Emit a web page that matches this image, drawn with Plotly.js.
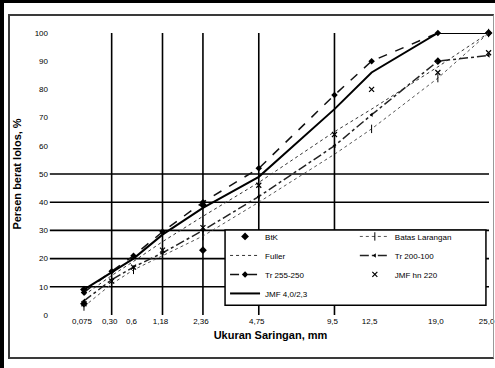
<!DOCTYPE html>
<html><head><meta charset="utf-8">
<script src="https://cdn.plot.ly/plotly-3.0.1.min.js"></script>
<style>
body{margin:0;background:#fff;}
#wrap{position:relative;width:495px;height:368px;overflow:hidden;background:#fff;}
#chart{position:absolute;left:0;top:0;width:495px;height:368px;}
.bar{position:absolute;background:#000;}
#frame{position:absolute;left:8px;top:14px;width:483px;height:341px;border:2px solid #3a3a3a;border-right:1px solid #999;pointer-events:none;}
</style></head><body>
<div id="wrap"><div id="chart"></div><div id="frame"></div>
<div class="bar" style="left:0;top:0;width:495px;height:3px"></div>
<div class="bar" style="left:0;top:0;width:4px;height:368px"></div>
</div>
<script>
// sieve sizes (mm) and their axis labels
const sieveSizes  = [0.075, 0.3, 0.6, 1.18, 2.36, 4.75, 9.5, 12.5, 19.0, 25.0];
const sieveLabels = ['0,075', '0,30', '0,6', '1,18', '2,36', '4,75', '9,5', '12,5', '19,0', '25,0'];
const yTicks      = [0, 10, 20, 30, 40, 50, 60, 70, 80, 90, 100];

// percent passing per series
const tr255   = [8, 15.5, 21, 29.5, 40, 52, 78, 90, 100, 100];
const jmf40   = [9, 15, 20, 28.5, 38, 49, 73, 86, 100, 100];
const fuller  = [7, 14, 19, 26, 35, 47, 65, 73, 88, 100];
const tr200   = [5, 12.5, 17, 22, 30, 42, 60, 71, 90, 92];
const jmf220  = [4, 12, 17, 23, 31, 46, 64, 80, 86, 93];
const batas   = [3, 11, 16, 21, 28, 40, 57, 66, 84, 100];

// control points (diamonds only)
const ctrlSize = [0.075, 0.075, 2.36, 2.36, 19.0, 25.0];
const ctrlPass = [4, 9, 23, 39, 90, 100];

// reference grid lines
const vLineSizes = [0.3, 1.18, 2.36, 4.75, 9.5];
const hLineVals  = [10, 20, 30, 40, 50];

const P = 0.45; // 0.45-power gradation scale
const tx = d => Math.pow(d, P);
const T = arr => arr.map(tx);

const F = 'Liberation Sans, Arial, sans-serif';
const traces = [
  {name:'BtK', x:T(ctrlSize), y:ctrlPass, mode:'markers', legend:'legend',
   marker:{symbol:'diamond', size:6, color:'#000'}},
  {name:'Fuller', x:T(sieveSizes), y:fuller, mode:'lines', legend:'legend',
   line:{color:'#333', width:1, dash:'dot'}},
  {name:'Tr 255-250', x:T(sieveSizes), y:tr255, mode:'lines+markers', legend:'legend',
   line:{color:'#111', width:1.5, dash:'dash'}, marker:{symbol:'diamond', size:5, color:'#000'}},
  {name:'JMF 4,0/2,3', x:T(sieveSizes), y:jmf40, mode:'lines', legend:'legend',
   line:{color:'#000', width:2}},
  {name:'Batas Larangan', x:T(sieveSizes), y:batas, mode:'lines+markers', legend:'legend2',
   line:{color:'#555', width:1, dash:'dot'}, marker:{symbol:'line-ns-open', size:6, color:'#000', line:{width:1}}},
  {name:'Tr 200-100', x:T(sieveSizes), y:tr200, mode:'lines+markers', legend:'legend2',
   line:{color:'#222', width:1.5, dash:'dashdot'}, marker:{symbol:'triangle-left', size:4, color:'#000'}},
  {name:'JMF hn 220', x:T(sieveSizes), y:jmf220, mode:'markers', legend:'legend2',
   marker:{symbol:'x-thin-open', size:5, color:'#000', line:{width:1.2, color:'#000'}}}
];

const shapes = [];
vLineSizes.forEach(d => shapes.push({type:'line', xref:'x', yref:'y', x0:tx(d), x1:tx(d), y0:0, y1:100,
  line:{color:'#000', width:1.6}, layer:'below'}));
hLineVals.forEach(v => shapes.push({type:'line', xref:'paper', yref:'y', x0:-0.005, x1:1, y0:v, y1:v,
  line:{color:'#000', width:1.6}, layer:'below'}));
// legend box
shapes.push({type:'rect', xref:'paper', yref:'paper', x0:0.396, x1:0.993, y0:0.035, y1:0.301,
  fillcolor:'#fff', line:{color:'#000', width:1.5}, layer:'above'});

const layout = {
  width:495, height:368,
  margin:{l:52, r:6, t:33, b:53},
  paper_bgcolor:'rgba(0,0,0,0)', plot_bgcolor:'rgba(0,0,0,0)',
  font:{family:F, color:'#000', size:8},
  showlegend:true,
  xaxis:{range:[0, tx(25) + 0.004], tickvals:T(sieveSizes), ticktext:sieveLabels, showgrid:false, zeroline:false,
    showline:false, ticks:'', tickfont:{size:8, family:F}, ticklabelshift:-2, ticklabeloverflow:'allow',
    title:{text:'Ukuran Saringan, mm', font:{size:11, family:F, weight:'bold'}, standoff:6}},
  yaxis:{range:[0,100], tickvals:yTicks, showgrid:false, zeroline:false, showline:false, ticks:'',
    tickfont:{size:8, family:F}, ticklabelstandoff:3,
    title:{text:'Persen berat lolos, %', font:{size:11, family:F, weight:'bold'}, standoff:10}},
  legend:{x:0.396, y:0.33, xanchor:'left', yanchor:'top', bgcolor:'rgba(0,0,0,0)', borderwidth:0,
    font:{size:8, family:F}, tracegroupgap:0},
  legend2:{x:0.693, y:0.33, xanchor:'left', yanchor:'top', bgcolor:'rgba(0,0,0,0)', borderwidth:0,
    font:{size:8, family:F}, tracegroupgap:0},
  shapes:shapes
};
traces.forEach(t => t.cliponaxis = false);
Plotly.newPlot('chart', traces, layout, {staticPlot:true, displayModeBar:false});
</script>
</body></html>
